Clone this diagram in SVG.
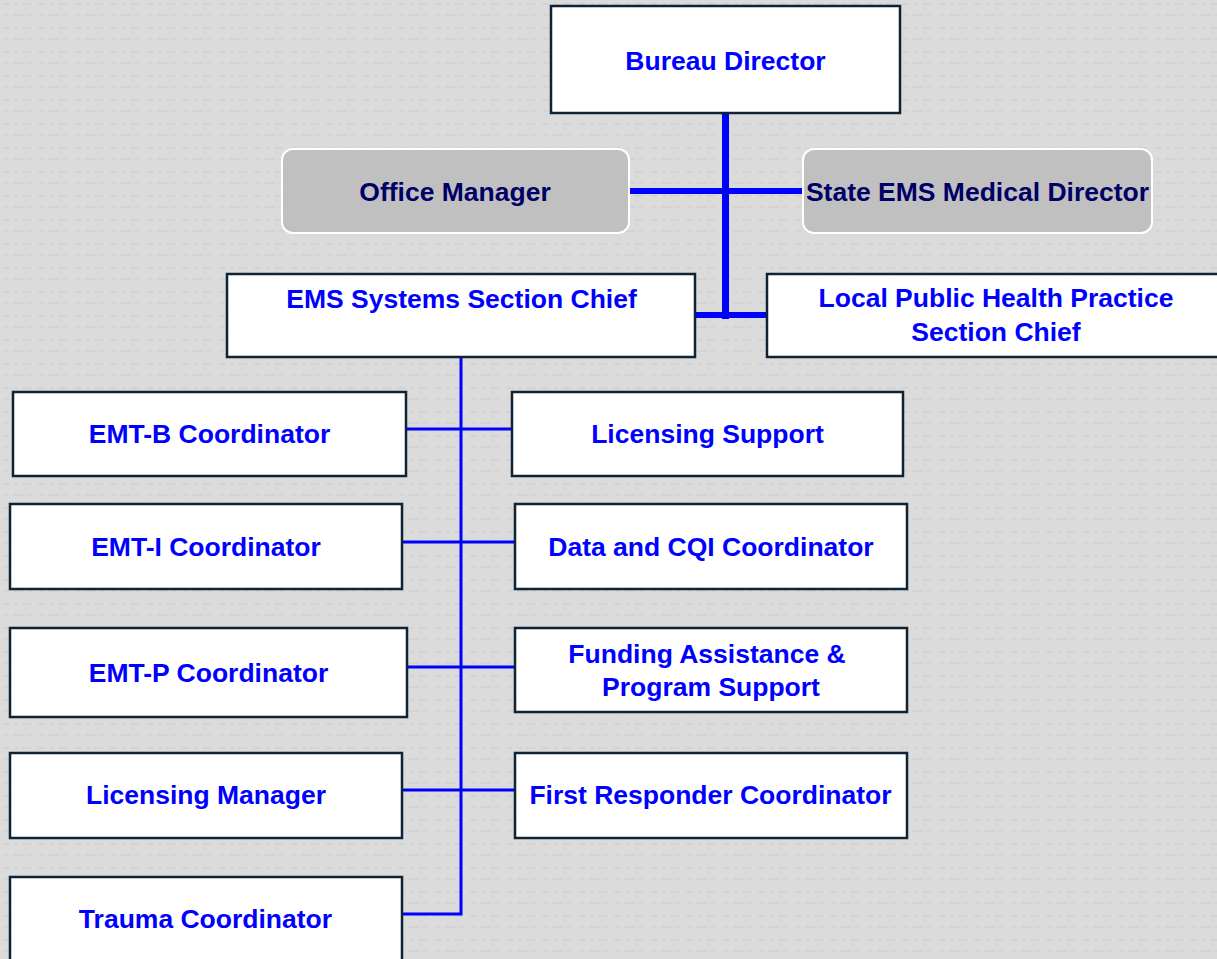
<svg xmlns="http://www.w3.org/2000/svg" width="1217" height="959" viewBox="0 0 1217 959">
  <defs>
    <!-- faint woven texture for the page background -->
    <pattern id="weave" width="36" height="24" patternUnits="userSpaceOnUse">
      <rect width="36" height="24" fill="#dbdbdb"/>
      <rect x="2" y="3" width="7" height="2" fill="#d3d3d3"/>
      <rect x="14" y="3" width="4" height="2" fill="#d5d5d5"/>
      <rect x="22" y="3" width="9" height="2" fill="#d3d3d3"/>
      <rect x="3" y="14" width="6" height="2" fill="#d5d5d5"/>
      <rect x="13" y="14" width="10" height="2" fill="#d3d3d3"/>
      <rect x="27" y="14" width="5" height="2" fill="#d5d5d5"/>
      <rect x="6" y="18" width="1" height="3" fill="#d5d5d5"/>
      <rect x="24" y="7" width="1" height="3" fill="#d5d5d5"/>
    </pattern>
    <style>
      .box { fill: #ffffff; stroke: #0e2336; stroke-width: 2.5; }
      .soft { fill: #c0c0c0; stroke: #ffffff; stroke-width: 2; }
      .lbl { font-family: "Liberation Sans", Arial, sans-serif; font-weight: bold; font-size: 26.5px; fill: #0000ff; text-anchor: middle; }
      .navy { fill: #000066; }
      .thick { fill: #0000ff; }
      .thin { stroke: #0000ff; stroke-width: 3; fill: none; }
    </style>
  </defs>

  <rect width="1217" height="959" fill="url(#weave)"/>

  <!-- connectors -->
  <g id="connectors">
    <!-- heavy trunk under the director -->
    <rect class="thick" x="722" y="113" width="7" height="206"/>
    <rect class="thick" x="629" y="188" width="176" height="6"/>
    <rect class="thick" x="695" y="312" width="72" height="6"/>
    <!-- light trunk under the EMS systems chief -->
    <path class="thin" d="M461 357 V914 H402" stroke-width="3.5"/>
    <path class="thin" d="M406 429 H512"/>
    <path class="thin" d="M402 542 H515"/>
    <path class="thin" d="M407 667 H515"/>
    <path class="thin" d="M402 790 H515"/>
  </g>

  <g id="bureau-director">
    <rect class="box" x="551" y="6" width="349" height="107"/>
    <text class="lbl" x="725.5" y="70">Bureau Director</text>
  </g>

  <g id="office-manager">
    <rect class="soft" x="282" y="149" width="347" height="84" rx="11"/>
    <text class="lbl navy" x="455" y="201">Office Manager</text>
  </g>

  <g id="state-ems-medical-director">
    <rect class="soft" x="803" y="149" width="349" height="84" rx="11"/>
    <text class="lbl navy" x="977.5" y="201">State EMS Medical Director</text>
  </g>

  <g id="ems-systems-section-chief">
    <rect class="box" x="227" y="274" width="468" height="83"/>
    <text class="lbl" x="461.5" y="308">EMS Systems Section Chief</text>
  </g>

  <g id="local-public-health-section-chief">
    <rect class="box" x="767" y="274" width="460" height="83"/>
    <text class="lbl" x="996" y="307">Local Public Health Practice</text>
    <text class="lbl" x="996" y="341">Section Chief</text>
  </g>

  <g id="emt-b-coordinator">
    <rect class="box" x="13" y="392" width="393" height="84"/>
    <text class="lbl" x="209.5" y="443">EMT-B Coordinator</text>
  </g>

  <g id="licensing-support">
    <rect class="box" x="512" y="392" width="391" height="84"/>
    <text class="lbl" x="707.5" y="443">Licensing Support</text>
  </g>

  <g id="emt-i-coordinator">
    <rect class="box" x="10" y="504" width="392" height="85"/>
    <text class="lbl" x="206" y="556">EMT-I Coordinator</text>
  </g>

  <g id="data-cqi-coordinator">
    <rect class="box" x="515" y="504" width="392" height="85"/>
    <text class="lbl" x="711" y="556">Data and CQI Coordinator</text>
  </g>

  <g id="emt-p-coordinator">
    <rect class="box" x="10" y="628" width="397" height="89"/>
    <text class="lbl" x="208.5" y="682">EMT-P Coordinator</text>
  </g>

  <g id="funding-assistance">
    <rect class="box" x="515" y="628" width="392" height="84"/>
    <text class="lbl" x="707" y="663">Funding Assistance &amp;</text>
    <text class="lbl" x="711" y="696">Program Support</text>
  </g>

  <g id="licensing-manager">
    <rect class="box" x="10" y="753" width="392" height="85"/>
    <text class="lbl" x="206" y="804">Licensing Manager</text>
  </g>

  <g id="first-responder-coordinator">
    <rect class="box" x="515" y="753" width="392" height="85"/>
    <text class="lbl" x="710.5" y="804">First Responder Coordinator</text>
  </g>

  <g id="trauma-coordinator">
    <rect class="box" x="10" y="877" width="392" height="95"/>
    <text class="lbl" x="205.5" y="928">Trauma Coordinator</text>
  </g>
</svg>
